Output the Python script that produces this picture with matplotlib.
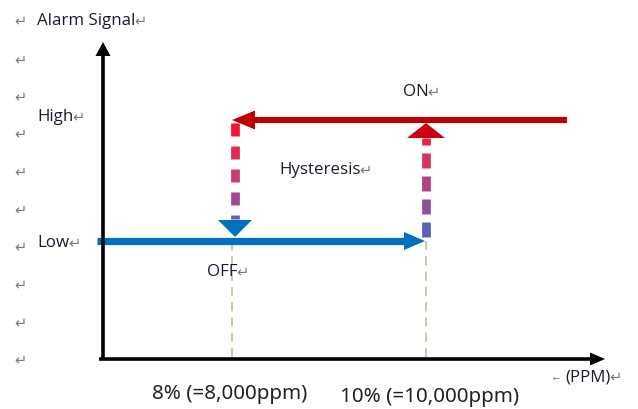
import numpy as np
import matplotlib.pyplot as plt
from matplotlib.patches import Polygon
from matplotlib.collections import LineCollection
from matplotlib.transforms import IdentityTransform
from matplotlib.colors import LinearSegmentedColormap

W, H = 638, 409

# chart values
thresholds_ppm = [8000, 10000]
threshold_labels = ["8% (=8,000ppm)", "10% (=10,000ppm)"]
level_names = ["Low", "High"]
level_values = [0, 1]
low_path_ppm = [6610, 10000]    # OFF: concentration rising
high_path_ppm = [11450, 8000]   # ON: concentration falling
state_labels = ["OFF", "ON"]

BLUE = "#0070C0"
RED = "#C00000"
TXT = "#1c1c30"
MARK = "#7a7a7a"
RET = "\u21b5"

fig = plt.figure(figsize=(W / 100, H / 100), dpi=100)
ax = fig.add_axes([0, 0, 1, 1])
# 8000 ppm -> x=232px, 10000 ppm -> x=426px ; Low -> y=241px, High -> y=120px
ax.set_xlim(8000 - 232 / 0.097, 8000 + (W - 232) / 0.097)
ax.set_ylim(-(H - 241) / 121, 241 / 121)
ax.axis("off")

renderer = fig.canvas.get_renderer()


def disp(x, y):
    # reference pixel (top-left origin) -> display coords
    return np.array([x, H - y])


def head(tip, direction, length, width, color):
    d = np.asarray(direction, float)
    d = d / np.linalg.norm(d)
    n = np.array([-d[1], d[0]])
    base = tip - d * length
    pts = [tip, base + n * width / 2, base - n * width / 2]
    ax.add_patch(Polygon(pts, closed=True, fc=color, ec="none",
                         transform=IdentityTransform(), zorder=5))


def label(x, y, s, size=12.2, color=TXT, **kw):
    t = fig.text(x / W, 1 - y / H, s, fontsize=size, color=color,
                 family=["Open Sans", "DejaVu Sans"], va="center", ha="left",
                 **kw)
    bb = t.get_window_extent(renderer)
    fig.text((bb.x1 - 1) / W, 1 - y / H, RET, fontsize=10.5,
             color=MARK, family="DejaVu Sans", va="center", ha="left")
    return t


# black axes
fig.add_artist(plt.Line2D([103 / W, 103 / W], [1 - 359 / H, 1 - 54 / H],
                          color="black", lw=2.6, solid_capstyle="butt"))
fig.add_artist(plt.Line2D([99 / W, 592 / W], [1 - 359 / H, 1 - 359 / H],
                          color="black", lw=2.6, solid_capstyle="butt"))
head(disp(103, 42), (0, 1), 14, 15, "black")
head(disp(605, 359), (1, 0), 15, 13, "black")

# thin threshold guides
for xp in thresholds_ppm:
    ax.plot([xp, xp], [level_values[0], ax.get_ylim()[0] + (H - 357) / 121],
            color="#c4b68c", lw=1.1, ls=(0, (6, 4)), zorder=1)

# Low state path (blue) with arrow to the right
low, high = level_values
px_unit = (ax.get_xlim()[1] - ax.get_xlim()[0]) / W
ax.plot([low_path_ppm[0], low_path_ppm[1] - 18 * px_unit], [low, low],
        color=BLUE, lw=5.2, solid_capstyle="butt", zorder=3)
head(ax.transData.transform((low_path_ppm[1] - 1 * px_unit, low)),
     (1, 0), 21, 18, BLUE)

# High state path (red) with arrow to the left
ax.plot([high_path_ppm[0], high_path_ppm[1] + 20 * px_unit], [high, high],
        color=RED, lw=4.4, solid_capstyle="butt", zorder=3)
head(ax.transData.transform((high_path_ppm[1], high)), (-1, 0), 23, 19, RED)

# gradient dashed transitions
cmap = LinearSegmentedColormap.from_list(
    "hyst", ["#3F6CC0", "#9A4C98", "#D8345E", "#FF0A28"])
py = 1 / 121


def dashed(xp, y_from, y_to, dash=13, gap=10):
    ys = []
    sgn = np.sign(y_to - y_from)
    y = y_from
    while (y_to - y) * sgn > 0:
        y2 = y + sgn * dash * py
        if (y_to - y2) * sgn < 0:
            y2 = y_to
        ys.append((y, y2))
        y = y2 + sgn * gap * py
    segs = [[(xp, a), (xp, b)] for a, b in ys]
    cols = [cmap((0.5 * (a + b) - low) / (high - low)) for a, b in ys]
    ax.add_collection(LineCollection(segs, colors=cols, linewidths=6.3,
                                     capstyle="butt", zorder=4))


off_x, on_x = thresholds_ppm
x_left = off_x + 3 * px_unit
dashed(x_left, high - 3 * py, low + 22 * py)
head(ax.transData.transform((x_left, low + 4 * py)), (0, -1), 17, 34, BLUE)
dashed(on_x, low + 4 * py, high - 18 * py, dash=15, gap=8)
head(ax.transData.transform((on_x, high - 3 * py)), (0, 1), 15, 38, "#CC0010")

# texts
label(37, 21, "Alarm Signal")
label(37, 117, level_names[1])
label(37, 243, level_names[0])
label(403, 92, state_labels[1])
label(279, 170, "Hysteresis")
label(207, 272, state_labels[0])

for yy in [21, 60, 97, 134, 172, 210, 247, 285, 323, 360]:
    fig.text(14 / W, 1 - yy / H, RET, fontsize=10.5, color=MARK,
             family="DejaVu Sans", va="center", ha="left")

fig.text(553 / W, 1 - 378 / H, "\u2190", fontsize=6, color=MARK,
         family="DejaVu Sans", va="center", ha="left")
label(565, 377, "(PPM)")

for x0, yy, s in zip([152, 340], [394, 397], threshold_labels):
    fig.text(x0 / W, 1 - yy / H, s, fontsize=14.8, color="#222222",
             family=["Noto Sans", "DejaVu Sans"],
             va="center", ha="left")

fig.savefig("out.png", dpi=100)
